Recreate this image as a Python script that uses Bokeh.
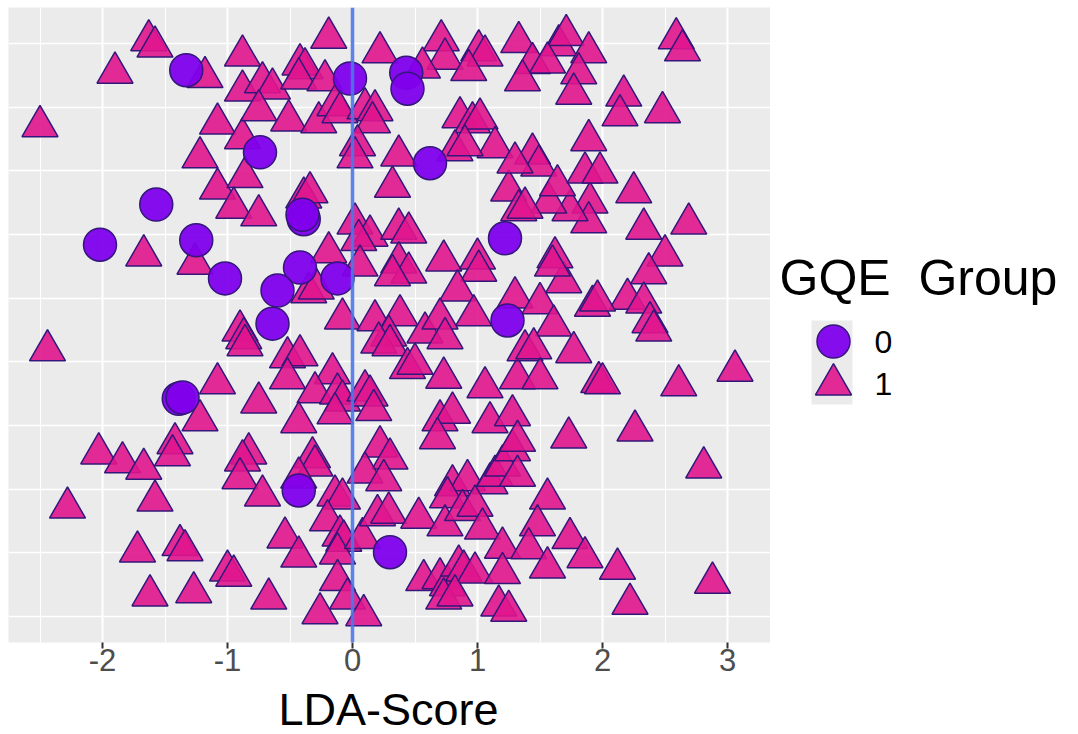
from bokeh.plotting import figure
from bokeh.models import Range1d, FixedTicker, Span, ColumnDataSource
from bokeh.layouts import row, column
from bokeh.embed import file_html
from bokeh.resources import INLINE
from bokeh.core.properties import value

FONT = "Liberation Sans"

# ---- data: GQE group 0 (circles) ----
lda_group0 = [-1.33, -0.02, 0.43, 0.44, -0.74, 0.62, -1.57, -0.39, -0.40, -2.02, -1.25,
              1.22, -1.02, -0.42, -0.12, -0.60, -0.64, 1.24, -1.39, -1.36, -0.43, 0.30]
jit_group0 = [8.58, 8.45, 8.54, 8.29, 7.29, 7.12, 6.47, 6.24, 6.31, 5.84, 5.91,
              5.94, 5.31, 5.48, 5.31, 5.12, 4.60, 4.65, 3.42, 3.44, 1.98, 1.01]

# ---- data: GQE group 1 (triangles) ----
lda_group1 = [-1.63, -1.58, -0.88, -0.19, 0.22, 0.71, 0.74, 1.01, 1.06, 1.33,
              1.65, 1.71, 1.89, 2.59, 2.64, 1.44, 1.56, -1.90, -1.18, -0.88,
              -0.72, -0.64, -0.42, -0.38, -0.43, -0.22, 0.56, 0.93, 1.36, 1.81,
              1.77, 2.17, -2.50, -1.08, -0.88, -1.22, -0.51, -0.27, -0.14, -0.10,
              0.10, 0.18, 0.16, 0.04, 0.02, 0.37, 0.86, 0.96, 1.02, 1.14,
              0.82, 0.90, 1.89, 2.14, 2.48, 1.44, 1.49, -1.67, -1.26, -1.08,
              -0.86, -0.95, -0.75, -0.39, -0.34, 0.32, 0.02, 0.14, 0.05, 0.37,
              0.45, -0.19, 0.06, -0.35, -0.29, 0.37, 0.45, 0.32, 0.73, 1.00,
              1.01, 0.84, 0.97, 1.25, 1.33, 1.30, -0.08, 0.18, 0.38, 0.29,
              0.58, 0.70, 0.74, 2.25, 2.33, 2.69, 2.50, 2.37, 2.20, 2.33,
              2.38, 2.41, 1.92, 1.96, 1.69, 1.62, 1.60, 1.50, 1.61, 1.90,
              1.89, 1.74, 1.57, 1.64, 1.38, 1.86, 1.98, -2.44, -0.90, -0.87,
              -0.86, -1.08, -1.22, -0.75, -2.03, -1.84, -1.67, -1.42, -1.44, -0.83,
              -0.88, -0.90, -1.58, -2.28, -0.52, -0.42, -0.52, -0.16, -0.30, -0.12,
              -0.08, -0.14, -0.43, 0.10, 0.14, 0.17, 0.21, 0.30, 0.44, 0.50,
              0.73, 1.06, 1.32, 0.70, 0.80, 0.68, 1.10, 1.28, 0.22, 0.30,
              0.10, 0.25, -0.32, -0.30, -0.43, -0.72, -0.14, -0.08, 0.80, 0.92,
              0.76, 1.10, 1.14, 1.20, 1.28, 1.32, 1.77, 1.38, 1.45, 1.97,
              2.00, 1.50, 2.61, 3.06, 1.73, 2.26, 2.81, 1.32, 1.56, -1.72,
              -1.38, -1.34, -1.00, -0.95, -1.62, -1.27, -0.67, -0.54, -0.43, -0.20,
              -0.10, -0.07, -0.12, 0.08, -0.12, -0.04, -0.26, 0.09, 0.20, 0.29,
              0.53, 0.74, 0.88, 0.98, 1.04, 1.20, 0.57, 0.70, 0.76, 0.85,
              0.89, 0.98, 0.73, 0.82, 1.20, 1.17, 1.25, 1.48, 1.74, 1.41,
              1.56, 1.86, 2.12, 2.22, 2.88, -0.75, 1.30]
jit_group1 = [9.05, 8.95, 8.81, 9.09, 8.86, 9.05, 8.76, 8.89, 8.81, 9.02,
              8.97, 9.13, 8.86, 9.08, 8.89, 8.69, 8.70, 8.54, 8.47, 8.26,
              8.39, 8.29, 8.67, 8.61, 8.45, 8.42, 8.62, 8.58, 8.42, 8.53,
              8.21, 8.18, 7.70, 7.74, 7.51, 7.21, 7.79, 7.76, 8.03, 7.92,
              7.98, 7.95, 7.76, 7.40, 7.21, 7.24, 7.84, 7.76, 7.82, 7.37,
              7.32, 7.40, 7.48, 7.87, 7.92, 7.27, 7.08, 5.67, 5.54, 6.72,
              6.90, 6.42, 6.30, 6.58, 6.66, 6.75, 6.17, 5.98, 5.91, 6.09,
              6.03, 5.72, 5.51, 5.09, 5.15, 5.56, 5.40, 5.36, 5.59, 5.62,
              5.43, 5.12, 4.73, 6.69, 6.38, 5.01, 4.68, 4.65, 4.73, 4.41,
              4.46, 4.68, 4.37, 6.66, 6.09, 6.17, 5.67, 5.39, 4.99, 4.93,
              4.62, 4.49, 4.88, 4.96, 5.25, 5.64, 5.51, 4.92, 4.57, 6.50,
              6.19, 6.38, 6.50, 6.77, 6.42, 6.97, 6.97, 4.18, 4.49, 4.37,
              4.26, 3.66, 3.08, 3.36, 2.56, 2.42, 2.32, 2.72, 2.53, 2.56,
              2.45, 2.17, 1.82, 1.71, 4.07, 4.10, 3.74, 3.82, 3.52, 3.50,
              3.39, 3.19, 3.05, 3.55, 3.47, 3.24, 4.30, 4.26, 3.90, 3.97,
              3.75, 3.60, 3.74, 3.08, 3.20, 2.80, 3.05, 3.16, 2.67, 2.48,
              2.26, 2.14, 2.50, 2.37, 2.18, 1.90, 1.90, 1.85, 2.06, 2.14,
              1.87, 2.09, 2.21, 2.37, 2.61, 2.76, 4.15, 4.18, 4.21, 3.68,
              3.66, 3.74, 3.63, 3.86, 2.81, 2.92, 2.34, 2.21, 1.85, 1.02,
              1.12, 1.04, 0.72, 0.64, 0.33, 0.38, 0.28, 1.24, 0.94, 1.51,
              1.27, 1.19, 0.99, 1.23, 0.57, 0.28, 0.05, 0.02, 1.59, 1.63,
              1.55, 1.43, 1.67, 1.74, 1.38, 1.08, 0.57, 0.60, 0.49, 0.80,
              0.72, 0.69, 0.28, 0.33, 0.68, 0.17, 0.09, 1.43, 1.23, 1.07,
              0.77, 0.93, 0.75, 0.20, 0.53, 7.95, 7.13]

x_major_ticks = [-2, -1, 0, 1, 2, 3]
x_tick_labels = ["-2", "-1", "0", "1", "2", "3"]
x_minor_ticks = [-2.5, -1.5, -0.5, 0.5, 1.5, 2.5]
y_grid_ticks = [0, 1, 2, 3, 4, 5, 6, 7, 8, 9]
group_labels = ["0", "1"]
legend_title = "GQE\u00a0\u00a0Group"
x_title = "LDA-Score"

TRI_FILL = "#E0158D"
CIR_FILL = "#8000EC"
EDGE = "#33177A"

# ---- main panel ----
p = figure(title=None, frame_width=762, frame_height=635,
           min_border_left=8, min_border_right=0, min_border_top=7, min_border_bottom=41,
           x_range=Range1d(-2.752, 3.344), y_range=Range1d(-0.408, 9.565),
           y_axis_location=None,
           output_backend="svg", toolbar_location=None)
p.background_fill_color = "#EBEBEB"
p.border_fill_color = "white"
p.outline_line_color = None

p.xgrid.ticker = FixedTicker(ticks=x_major_ticks, minor_ticks=x_minor_ticks)
p.xgrid.grid_line_color = "white"
p.xgrid.grid_line_width = 2
p.xgrid.minor_grid_line_color = "white"
p.xgrid.minor_grid_line_width = 1
p.ygrid.ticker = FixedTicker(ticks=y_grid_ticks)
p.ygrid.grid_line_color = "white"
p.ygrid.grid_line_width = 1.6

ax = p.xaxis[0]
ax.ticker = FixedTicker(ticks=x_major_ticks)
ax.major_label_overrides = {t: s for t, s in zip(x_major_ticks, x_tick_labels)}
ax.axis_line_color = None
ax.major_tick_line_color = "#333333"
ax.major_tick_line_width = 2
ax.major_tick_out = 6
ax.major_tick_in = 0
ax.minor_tick_line_color = None
ax.major_label_text_font = FONT
ax.major_label_text_font_size = "31px"
ax.major_label_text_color = "#4D4D4D"
ax.major_label_standoff = 0

src1 = ColumnDataSource(dict(x=lda_group1, y=jit_group1))
src0 = ColumnDataSource(dict(x=lda_group0, y=jit_group0))
p.scatter("x", "y", source=src1, marker="triangle", size=36,
          fill_color=TRI_FILL, fill_alpha=0.9, line_color=EDGE, line_width=1.5)
p.scatter("x", "y", source=src0, marker="circle", size=33,
          fill_color=CIR_FILL, fill_alpha=0.95, line_color=EDGE, line_width=1.5)

p.add_layout(Span(location=0, dimension="height", line_color="#4C76E8",
                  line_width=3.5, line_alpha=0.9))


def blank(w, h, xr, yr, left=0):
    f = figure(title=None, frame_width=w, frame_height=h, min_border=0,
               min_border_left=left, min_border_right=0, min_border_top=0, min_border_bottom=0,
               x_range=xr, y_range=yr, x_axis_location=None, y_axis_location=None,
               output_backend="svg", toolbar_location=None)
    f.grid.visible = False
    f.outline_line_color = None
    f.background_fill_color = "white"
    f.border_fill_color = "white"
    return f


# ---- x-axis title strip (below the tick labels) ----
tf = blank(762, 51, Range1d(0, 762), Range1d(51, 0), left=8)
tf.text(x=[380], y=[51], text=[x_title], text_font=value(FONT), text_font_size="45px",
        text_align="center", text_baseline="bottom", text_color="black")

# ---- legend panel ----
leg = blank(308, 734, Range1d(0, 308), Range1d(734, 0))
leg.text(x=[9], y=[277], text=[legend_title], text_font=value(FONT),
         text_font_size="50px", text_baseline="middle", text_color="black")
leg.quad(left=[41], right=[82], top=[320], bottom=[404], fill_color="#EBEBEB", line_color=None)
leg.scatter(x=[63], y=[341], marker="circle", size=33,
            fill_color=CIR_FILL, fill_alpha=0.95, line_color=EDGE, line_width=1.5)
leg.scatter(x=[63], y=[384], marker="triangle", size=36,
            fill_color=TRI_FILL, fill_alpha=0.9, line_color=EDGE, line_width=1.5)
leg.text(x=[104, 104], y=[341, 383], text=group_labels, text_font=value(FONT),
         text_font_size="32px", text_baseline="middle", text_color="black")

layout = row(column(p, tf, spacing=0), leg, spacing=0)
open("out.html", "w").write(file_html(layout, INLINE))
